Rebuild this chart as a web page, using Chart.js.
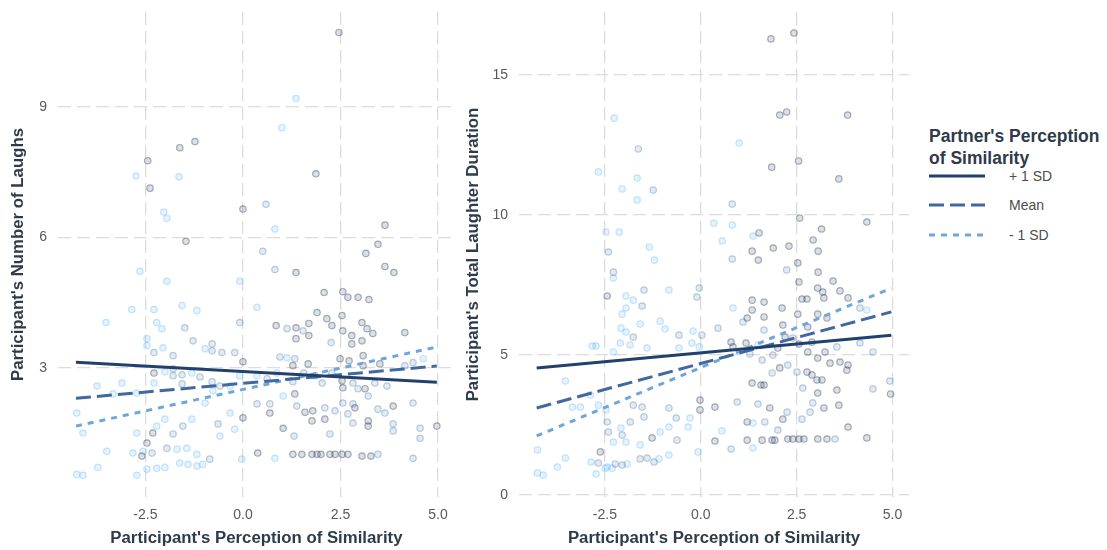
<!DOCTYPE html>
<html>
<head>
<meta charset="utf-8">
<script src="https://cdn.jsdelivr.net/npm/chart.js@4.4.0/dist/chart.umd.min.js"></script>
<style>
  html, body { margin: 0; padding: 0; background: #fff; }
  body { width: 1107px; height: 550px; position: relative; overflow: hidden; font-family: 'Liberation Sans', Arial, sans-serif; }
  canvas { position: absolute; top: 0; }
  #laughsChart { left: 0; }
  #durationChart { left: 461px; }
  .legend-title { position: absolute; left: 929px; top: 125px; font-weight: bold; font-size: 17.5px; line-height: 22px; color: #2f3b4a; }
  .legend-item { position: absolute; left: 929px; height: 14px; }
  .legend-item svg { position: absolute; left: 0; top: 2px; }
  .legend-item span { position: absolute; left: 80px; top: -1px; font-size: 14px; line-height: 16px; color: #4d4d4d; white-space: nowrap; }
</style>
</head>
<body>
<canvas id="laughsChart" width="460" height="550"></canvas>
<canvas id="durationChart" width="455" height="550"></canvas>
<div class="legend-title">Partner's Perception<br>of Similarity</div>
<div id="legend"></div>
<script>
// x ticks shared by both panels
const xTickValues = [-2.5, 0, 2.5, 5];
const laughsTickValues = [3, 6, 9];
const durationTickValues = [0, 5, 10, 15];

// Partner's perception levels (legend order)
const levelNames = ['+ 1 SD', 'Mean', '- 1 SD'];
const levelColors = ['#22406e', '#41699f', '#6ea6dc'];
const levelDash = [[], [15, 6], [6, 6]];

// regression lines: y at start / end of the x range
const lineX = [-4.28, 4.97];
const laughsPlus1SD = [3.13, 2.67];
const laughsMean = [2.30, 3.04];
const laughsMinus1SD = [1.66, 3.48];
const durationPlus1SD = [4.54, 5.71];
const durationMean = [3.11, 6.54];
const durationMinus1SD = [2.11, 7.39];

// point shade: 0 = high partner perception (dark), 1 = middle, 2 = low (light)
const shadeFill = ['rgba(40,60,90,0.16)', 'rgba(60,110,160,0.14)', 'rgba(86,177,247,0.15)'];
const shadeBorder = ['rgba(40,60,90,0.40)', 'rgba(60,110,160,0.33)', 'rgba(86,177,247,0.33)'];

const laughsX = [
  2.46,1.36,1.00,-1.23,-1.62,-2.44,-2.74,-1.64,-2.38,1.87,-2.03,-1.95,0.00,0.59,0.82,-1.46,3.64,3.46,3.15,0.51,0.82,1.36,3.64,3.87,-2.64,
  -1.95,-0.08,2.08,2.56,2.69,2.95,3.23,-3.51,-2.85,-2.28,-2.21,-1.56,-1.18,-1.49,-2.08,-0.08,0.36,0.85,1.13,1.36,1.54,1.69,1.69,1.36,1.90,
  2.15,2.28,2.54,2.56,3.05,3.18,3.33,4.15,2.79,2.26,2.79,3.05,-1.28,-2.46,-2.46,-2.28,-2.05,-1.79,-0.97,-0.79,-0.79,-0.54,-0.21,0.00,0.95,
  1.13,1.33,1.28,1.67,2.49,2.72,3.08,3.08,3.51,4.15,4.36,4.62,-3.10,-3.33,-3.74,-2.72,-2.28,-2.28,-2.00,-1.79,-1.79,-1.56,-1.56,-1.31,-1.10,
  -0.79,-0.77,-0.59,-0.33,-0.08,0.36,0.62,0.87,1.28,1.56,1.85,2.03,2.28,2.54,2.56,2.82,2.95,3.13,3.21,3.69,3.38,0.36,0.69,0.69,1.03,
  1.33,1.38,1.59,1.79,1.77,2.10,2.10,2.36,2.56,2.69,2.82,2.87,2.82,3.21,3.21,3.46,3.64,3.85,3.85,3.85,4.36,4.54,4.54,4.97,0.00,
  -0.21,-0.64,-0.33,-0.97,-1.31,-1.54,-1.79,-2.00,-2.21,-2.31,-2.72,-2.46,-2.56,-2.82,-2.59,-1.95,-1.69,-1.44,-0.85,-0.59,-1.18,-0.03,0.38,0.82,1.28,
  1.51,1.77,1.90,2.00,2.23,2.36,2.54,2.69,3.05,3.28,3.46,4.36,1.03,1.31,2.23,-4.26,-4.10,-4.26,-4.10,-3.72,-3.49,-2.72,-2.46,-2.21,-2.00,
  -1.62,-1.41,-1.18,-1.03,-2.33
];
const laughsY = [
  10.71,9.19,8.52,8.20,8.06,7.76,7.41,7.39,7.13,7.46,6.58,6.44,6.65,6.76,6.19,5.91,6.28,5.84,5.63,5.68,5.26,5.19,5.33,5.19,5.22,
  4.99,4.99,4.73,4.75,4.62,4.62,4.57,4.04,4.34,4.34,4.04,4.43,4.32,3.92,3.90,4.04,4.39,3.97,3.90,3.92,3.85,4.02,3.74,3.67,4.27,
  4.13,3.97,4.20,3.85,4.04,3.90,3.79,3.81,3.74,3.58,3.55,3.62,3.62,3.67,3.51,3.35,3.46,3.28,3.44,3.55,3.39,3.35,3.35,3.14,3.25,
  3.23,3.21,3.05,3.09,3.21,3.16,3.28,3.05,3.09,3.05,3.12,3.21,2.65,2.40,2.58,2.42,2.88,2.65,2.91,2.98,2.82,2.84,2.63,2.88,2.79,
  2.68,2.47,2.58,2.58,2.82,2.82,2.75,2.88,2.68,2.88,2.82,2.65,2.88,2.70,2.54,2.65,2.52,2.52,2.35,2.58,2.65,2.17,2.17,1.96,2.35,
  2.40,2.12,1.98,2.01,1.78,2.08,1.82,2.01,2.19,1.94,2.17,2.08,1.73,1.78,1.66,2.05,1.96,2.12,1.71,1.55,2.19,1.61,1.38,1.66,1.85,
  1.59,1.71,1.96,2.19,1.82,1.66,1.48,1.82,1.66,1.50,1.50,1.27,1.08,1.04,0.97,1.15,1.13,1.15,0.90,1.43,1.01,0.90,1.04,0.92,1.01,
  1.01,1.01,1.01,1.01,1.01,1.01,1.01,1.01,0.97,0.97,1.01,0.92,1.61,1.43,1.48,1.96,1.50,0.55,0.53,0.71,1.08,0.53,0.67,0.69,0.71,
  0.81,0.78,0.74,0.78,1.04
];
const laughsShade = [
  0,2,2,0,0,0,2,2,0,0,2,2,0,1,2,0,0,0,0,1,1,0,0,0,2,
  2,2,0,0,0,0,0,2,2,2,2,2,2,1,2,1,2,0,1,0,1,0,0,0,0,
  0,0,0,0,0,0,0,0,0,1,0,0,1,2,2,1,2,1,2,1,1,1,1,0,1,
  2,1,0,0,0,0,0,0,0,1,1,2,2,2,2,2,0,2,2,1,1,1,1,2,1,
  1,2,1,2,2,2,1,2,1,1,1,1,1,0,0,1,1,0,1,1,1,1,1,0,2,
  0,1,0,0,0,1,0,1,1,1,1,0,1,0,0,1,1,0,1,1,1,1,1,0,0,
  2,1,2,2,2,1,1,2,2,0,2,0,2,2,0,1,2,2,1,2,2,2,0,2,0,
  0,0,0,0,0,0,0,0,0,0,1,1,0,1,1,2,2,2,2,2,2,2,2,2,2,
  2,2,2,2,1
];

const durationX = [
  2.43,1.83,-2.26,2.06,2.24,3.83,1.00,-1.63,1.85,2.55,-2.67,-1.66,3.60,-2.05,-1.24,-1.66,0.82,2.58,4.33,0.34,0.82,-2.47,-2.13,1.52,1.36,
  3.15,0.56,2.93,-2.41,-1.34,1.34,1.89,2.30,3.06,-1.21,0.82,1.50,2.53,2.24,3.06,-2.28,-2.28,-2.44,-1.48,-0.83,-0.04,-0.10,-1.95,-1.76,-2.05,
  -1.95,-2.08,-1.95,-1.76,-1.53,-1.58,-1.06,-0.93,-0.57,-0.20,0.03,-0.23,-0.04,-0.57,-1.40,-1.84,-2.10,-2.83,-2.73,-2.28,0.84,0.45,1.10,1.21,1.34,
  1.34,1.65,1.65,1.65,2.12,2.56,2.64,2.77,3.05,3.18,3.45,3.63,3.84,3.21,3.05,3.29,2.79,2.53,4.15,4.33,4.15,4.49,0.79,0.84,1.18,
  1.28,1.49,1.60,1.88,2.01,2.14,2.20,2.40,2.56,2.79,2.90,3.05,3.24,3.37,3.55,3.63,3.81,3.84,2.90,3.03,3.16,2.77,2.51,2.27,2.06,
  1.86,2.66,3.05,3.55,4.49,4.93,4.95,3.60,3.21,2.92,2.85,2.64,2.25,2.14,2.01,3.84,1.49,1.80,1.34,1.57,1.65,0.95,1.21,1.36,1.67,
  1.21,1.36,1.60,1.86,1.93,2.27,2.40,2.56,2.69,3.05,3.29,3.50,4.33,0.79,0.37,0.55,0.37,-0.02,-0.02,-0.07,-0.33,-0.28,-0.64,-0.83,-0.83,
  -0.62,-0.83,-1.06,-1.27,-1.40,-1.58,-1.22,-1.09,-1.48,-1.53,-1.76,-1.84,-2.08,-2.05,-1.95,-1.58,-2.28,-2.41,-2.44,-2.47,-2.67,-2.88,-3.14,-3.35,-3.53,
  -2.86,-2.67,-2.62,-2.44,-2.23,-2.05,-1.92,-2.73,-3.74,-3.53,-4.26,-4.26,-4.11,-2.31,-2.49
];
const durationY = [
  16.50,16.29,13.46,13.57,13.68,13.57,12.57,12.36,11.71,11.93,11.54,11.32,11.29,10.93,10.89,10.54,10.39,9.89,9.75,9.71,9.64,9.39,9.39,9.36,9.25,
  9.50,9.07,9.11,8.68,8.86,8.71,8.82,8.89,8.71,8.39,8.43,8.39,8.29,8.04,7.96,7.96,7.75,7.11,7.32,7.32,7.39,7.07,7.11,6.96,6.46,
  6.68,5.96,5.82,5.64,6.75,6.11,6.21,5.93,5.71,5.86,5.71,5.43,5.29,5.25,5.25,5.36,5.43,5.32,5.32,5.11,6.68,5.96,6.18,6.32,6.96,
  6.61,6.89,6.36,5.89,6.68,7.61,7.00,7.00,7.39,7.25,7.64,7.29,7.04,7.04,6.46,6.32,6.00,6.46,6.68,6.61,5.43,5.11,5.46,5.29,5.43,
  5.04,5.36,4.82,5.00,5.25,6.07,5.64,5.61,5.39,5.11,5.46,4.89,5.11,4.71,5.29,4.75,4.46,4.64,4.29,4.11,4.11,4.39,4.39,4.64,4.54,
  4.36,3.82,3.64,3.75,3.79,4.07,3.61,3.21,3.11,3.29,2.96,2.71,2.96,2.71,2.32,2.43,3.25,3.11,4.00,3.93,3.93,3.32,2.61,2.57,2.61,
  1.96,1.68,1.96,1.96,1.96,2.00,2.00,2.00,2.00,2.00,2.00,2.00,2.04,1.64,1.93,2.29,3.14,3.39,3.04,1.54,2.43,2.75,2.75,3.11,2.43,
  1.96,1.43,2.25,2.04,1.32,1.29,1.18,1.29,2.79,3.14,3.21,2.61,2.39,2.14,1.89,1.79,1.89,2.25,2.61,3.04,3.21,3.57,3.14,3.14,4.07,
  1.18,1.14,1.54,1.00,1.11,1.07,1.11,0.75,1.00,1.32,1.61,0.79,0.71,0.96,0.96
];
const durationShade = [
  0,0,2,0,0,0,2,1,0,0,2,2,0,2,1,2,1,0,0,2,2,2,2,0,2,
  0,2,0,1,2,0,0,0,0,2,1,0,0,1,0,1,2,0,1,2,1,1,2,2,2,
  2,2,2,1,1,2,2,2,1,2,1,2,2,2,2,2,2,2,2,2,2,1,1,0,0,
  0,0,0,1,0,0,0,0,0,0,0,0,0,0,0,0,0,0,1,2,1,1,0,0,0,
  1,2,1,1,0,0,0,1,0,0,0,0,0,0,1,0,0,0,0,0,0,0,1,1,0,
  1,1,0,0,1,1,0,0,0,1,1,1,1,0,1,0,1,0,0,0,0,1,0,2,1,
  0,2,0,0,0,0,0,0,0,0,0,1,0,1,0,2,0,0,0,2,2,2,1,1,2,
  1,2,2,0,1,1,1,2,1,1,1,1,2,1,2,2,2,1,1,2,2,2,2,2,2,
  2,1,0,2,1,1,2,2,2,2,2,2,2,2,2
];

Chart.defaults.font.family = "'Liberation Sans', Arial, sans-serif";

/**
 * Builds one panel: scatter of participants plus the three simple-slope lines.
 */
function buildPanel(canvasId, xs, ys, shades, lines, yTicks, yMin, yMax, yTitle, titlePad, rightPad) {
    const datasets = [];

    lines.forEach((vals, i) => {
        datasets.push({
            label: levelNames[i],
            data: lineX.map((x, k) => ({ x: x, y: vals[k] })),
            showLine: true,
            borderColor: levelColors[i],
            borderWidth: 3,
            borderDash: levelDash[i],
            borderCapStyle: 'butt',
            pointRadius: 0,
            fill: false,
            order: i
        });
    });

    [0, 1, 2].forEach(s => {
        const pts = [];
        xs.forEach((x, k) => { if (shades[k] === s) pts.push({ x: x, y: ys[k] }); });
        datasets.push({
            label: 'shade' + s,
            data: pts,
            backgroundColor: shadeFill[s],
            borderColor: shadeBorder[s],
            borderWidth: 1.2,
            pointRadius: 3.2,
            order: 10 + s
        });
    });

    const gridStyle = { color: '#dcdcdc', lineWidth: 1.3, drawTicks: false };

    return new Chart(document.getElementById(canvasId), {
        type: 'scatter',
        data: { datasets },
        options: {
            responsive: false,
            animation: false,
            devicePixelRatio: 1,
            layout: { padding: { left: 0, right: rightPad, top: 12, bottom: 0 } },
            plugins: { legend: { display: false }, tooltip: { enabled: false } },
            scales: {
                x: {
                    type: 'linear',
                    min: -4.74,
                    max: 5.43,
                    afterBuildTicks: s => { s.ticks = xTickValues.map(v => ({ value: v })); },
                    afterFit: s => { s.height = 53; },
                    ticks: { callback: v => v.toFixed(1), color: '#595959', font: { size: 14 }, padding: 10, maxRotation: 0 },
                    grid: gridStyle,
                    border: { display: false, dash: [13, 6] },
                    title: { display: true, text: "Participant's Perception of Similarity", color: '#2f3b4a', font: { size: 16.8, weight: 'bold' }, padding: { top: 0, bottom: 2 } }
                },
                y: {
                    type: 'linear',
                    min: yMin,
                    max: yMax,
                    afterBuildTicks: s => { s.ticks = yTicks.map(v => ({ value: v })); },
                    afterFit: s => { s.width = 58; s.paddingTop = 0; s.paddingBottom = 0; },
                    ticks: { callback: v => String(v), color: '#595959', font: { size: 14 }, padding: 11 },
                    grid: gridStyle,
                    border: { display: false, dash: [13, 6] },
                    title: { display: true, text: yTitle, color: '#2f3b4a', font: { size: 16.8, weight: 'bold' }, padding: { top: titlePad, bottom: 0 } }
                }
            }
        }
    });
}

buildPanel('laughsChart', laughsX, laughsY, laughsShade,
    [laughsPlus1SD, laughsMean, laughsMinus1SD],
    laughsTickValues, 0.03, 11.18, "Participant's Number of Laughs", 8, 5);

buildPanel('durationChart', durationX, durationY, durationShade,
    [durationPlus1SD, durationMean, durationMinus1SD],
    durationTickValues, -0.07, 17.25, "Participant's Total Laughter Duration", 2, 7);

// legend for the partner's perception lines
const legend = document.getElementById('legend');
const legendTops = [169, 198, 228];
levelNames.forEach((name, i) => {
    const item = document.createElement('div');
    item.className = 'legend-item';
    item.style.top = legendTops[i] + 'px';
    item.innerHTML = `<svg width="56" height="10"><line x1="0" y1="5" x2="56" y2="5" stroke="${levelColors[i]}" stroke-width="3" stroke-dasharray="${levelDash[i].join(' ') || 'none'}"/></svg><span>${name}</span>`;
    legend.appendChild(item);
});
</script>
</body>
</html>
